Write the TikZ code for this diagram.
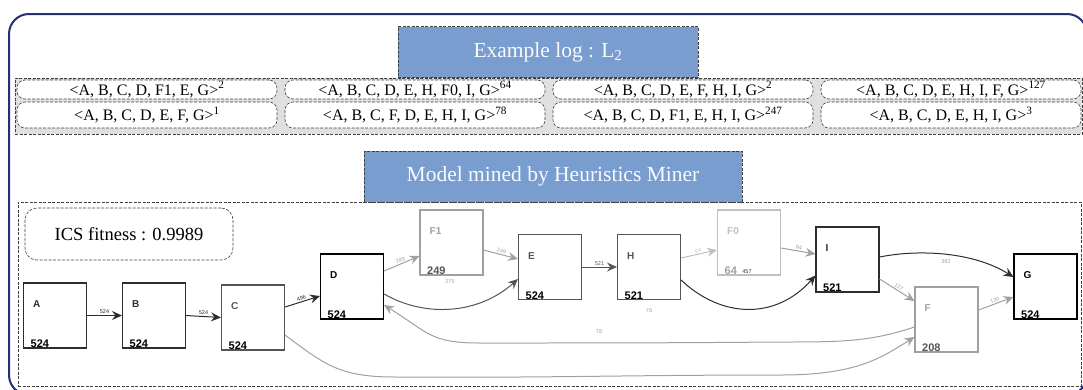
\documentclass[tikz,border=0pt]{standalone}
\usepackage{fontspec}
\setmainfont{Liberation Serif}
\setsansfont{Liberation Sans}
\usepackage{tikz}
\usetikzlibrary{arrows.meta}
\usepackage{xcolor}

\definecolor{framenavy}{RGB}{38,46,118}
\definecolor{titleblue}{RGB}{121,157,207}
\definecolor{logbg}{RGB}{224,224,224}
\definecolor{darkedge}{RGB}{45,45,45}
\definecolor{midedge}{RGB}{85,85,85}
\definecolor{grayedge}{RGB}{160,160,160}
\definecolor{lightedge}{RGB}{192,192,192}

\tikzset{
  dash box/.style={draw=black!75, dash pattern=on 3pt off 1.5pt, line width=0.6pt, inner sep=0pt},
  title box/.style={dash box, fill=titleblue, text=white!95!titleblue, minimum height=51pt,
    font=\fontsize{21.5}{24}\selectfont},
  trace/.style={dash box, fill=white, rounded corners=8pt, minimum width=260pt,
    font=\fontsize{16}{17}\selectfont},
  act/.style={draw, line width=1.1pt, minimum width=63pt, minimum height=65pt, inner sep=0pt},
  actname/.style={anchor=west, inner sep=0pt, font=\sffamily\bfseries\fontsize{10}{10}\selectfont},
  actcount/.style={anchor=south west, inner sep=0.5pt, font=\sffamily\bfseries\fontsize{11}{11}\selectfont},
  freq/.style={inner sep=1pt, font=\sffamily\fontsize{5.5}{5.5}\selectfont},
  flow/.style={-{Stealth[length=10pt,width=9pt,inset=3.5pt]}, line width=1pt},
}

% activity box with its name and count: node, x, y, name, count, box colour, count colour
\newcommand{\activity}[7]{%
  \node[act, draw=#6] (#1) at (#2,#3) {};
  \node[actname, text=#6] (#1-name) at ([xshift=10pt,yshift=-22pt]#1.north west) {#4};
  \node[actcount, text=#7] (#1-count) at ([xshift=7pt]#1.south west) {#5};
}

\begin{document}
\begin{tikzpicture}[x=1pt,y=-1pt]
  \useasboundingbox (0,0) rectangle (1083,389);
  \clip (0,0) rectangle (1083,389);
  \draw[framenavy, line width=2pt, rounded corners=20pt] (9,14) rectangle (1087,395);

  % the event log
  \node[dash box, fill=logbg, minimum width=1067pt, minimum height=56pt] (logbox) at (548.5,106) {};
  \node[title box, minimum width=300pt] (logtitle) at (548,52) {Example log : L\textsubscript{2}};

  \node[trace, minimum height=19pt] (t1) at (147,89.5) {<A, B, C, D, F1, E, G>\textsuperscript{2}};
  \node[trace, minimum height=19pt] (t2) at (415,89.5) {<A, B, C, D, E, H, F0, I, G>\textsuperscript{64}};
  \node[trace, minimum height=19pt] (t3) at (683,89.5) {<A, B, C, D, E, F, H, I, G>\textsuperscript{2}};
  \node[trace, minimum height=19pt] (t4) at (951,89.5) {<A, B, C, D, E, H, I, F, G>\textsuperscript{127}};
  \node[trace, minimum height=26pt] (t5) at (147,115) {<A, B, C, D, E, F, G>\textsuperscript{1}};
  \node[trace, minimum height=26pt] (t6) at (415,115) {<A, B, C, F, D, E, H, I, G>\textsuperscript{78}};
  \node[trace, minimum height=26pt] (t7) at (683,115) {<A, B, C, D, F1, E, H, I, G>\textsuperscript{247}};
  \node[trace, minimum height=26pt] (t8) at (951,115) {<A, B, C, D, E, H, I, G>\textsuperscript{3}};

  % the mined model
  \node[dash box, minimum width=1063pt, minimum height=184pt] (modelbox) at (549.5,294) {};
  \node[title box, minimum width=378pt] (modeltitle) at (553,176.5) {Model mined by Heuristics Miner};
  \node[dash box, rounded corners=12pt, minimum width=208pt, minimum height=52pt,
    font=\fontsize{18.5}{20}\selectfont] (ics) at (129,234) {ICS fitness : 0.9989};

  \activity{A}{55}{315.5}{A}{524}{darkedge}{black}
  \activity{B}{154}{315.5}{B}{524}{darkedge}{black}
  \activity{C}{253}{317.5}{C}{524}{midedge}{black}
  \activity{D}{352}{286.5}{D}{524}{black}{black}
  \activity{F1}{451.5}{242.5}{F1}{249}{grayedge}{midedge}
  \activity{E}{550}{267}{E}{524}{midedge}{black}
  \activity{H}{649}{267}{H}{521}{midedge}{black}
  \activity{F0}{749}{242.5}{F0}{64}{lightedge}{grayedge}
  \activity{I}{847.5}{259.5}{I}{521}{darkedge}{black}
  \activity{F}{946.5}{319.5}{F}{208}{grayedge}{midedge}
  \activity{G}{1045.5}{286.5}{G}{524}{black}{black}

  % straight arcs
  \draw[flow, darkedge] (A.east) -- node[freq, above] {524} (B.west);
  \draw[flow, darkedge] (B.east) -- node[freq, above] {524} (C.west);
  \draw[flow, darkedge] ([yshift=10.5pt]C.east) -- node[freq, above, sloped] {496} ([yshift=-9.5pt]D.west);
  \draw[flow, grayedge] ([yshift=15.5pt]D.east) -- node[freq, above, sloped] {249} ([yshift=-13.5pt]F1.west);
  \draw[flow, grayedge] ([yshift=-7.5pt]F1.east) -- node[freq, above, sloped] {249} ([yshift=8pt]E.west);
  \draw[flow, midedge] (E.east) -- node[freq, above] {521} (H.west);
  \draw[flow, lightedge] ([yshift=9pt]H.east) -- node[freq, above, sloped] {64} ([yshift=-7.5pt]F0.west);
  \draw[flow, grayedge] ([yshift=-5.5pt]F0.east) -- node[freq, above, sloped] {64} ([yshift=5.5pt]I.west);
  \draw[flow, grayedge] ([yshift=-19.5pt]I.east) -- node[freq, above, sloped] {127} ([yshift=18.5pt]F.west);
  \draw[flow, grayedge] ([yshift=9.5pt]F.east) -- node[freq, above, sloped] {130} ([yshift=-10.5pt]G.west);

  % curved arcs
  \draw[flow, midedge] ([yshift=-7.5pt]D.east) .. controls +(42,24) and +(-39,35) .. ([yshift=-12pt]E.west);
  \node[freq, text=grayedge] (de) at (450,282) {275};
  \draw[flow, darkedge] ([yshift=-13pt]H.east) .. controls +(40,38) and +(-40,45) .. ([yshift=-16pt]I.west);
  \node[freq, text=darkedge] (hi) at (747,272) {457};
  \draw[flow, darkedge] ([yshift=2.5pt]I.east) .. controls +(40,-8) and +(-40,-25) .. ([yshift=9.5pt]G.west);
  \node[freq, text=grayedge] (ig) at (946,262) {382};
  \draw[flow, grayedge] ([yshift=-7.5pt]F.west) .. controls +(-45,15) and +(60,0) .. (780,342)
    .. controls +(-120,1) and +(120,0) .. (480,343) .. controls +(-50,0) and +(45,28) .. ([yshift=-18.5pt]D.east);
  \node[freq, text=grayedge] (fd) at (599,332) {78};
  \draw[flow, grayedge] ([yshift=-17.5pt]C.east) .. controls +(40,30) and +(-55,0) .. (395,377)
    .. controls +(160,1) and +(-160,0) .. (780,375) .. controls +(75,0) and +(-35,22) .. ([yshift=-17.5pt]F.west);
  \node[freq, text=grayedge] (cf) at (649,311) {78};
\end{tikzpicture}
\end{document}
